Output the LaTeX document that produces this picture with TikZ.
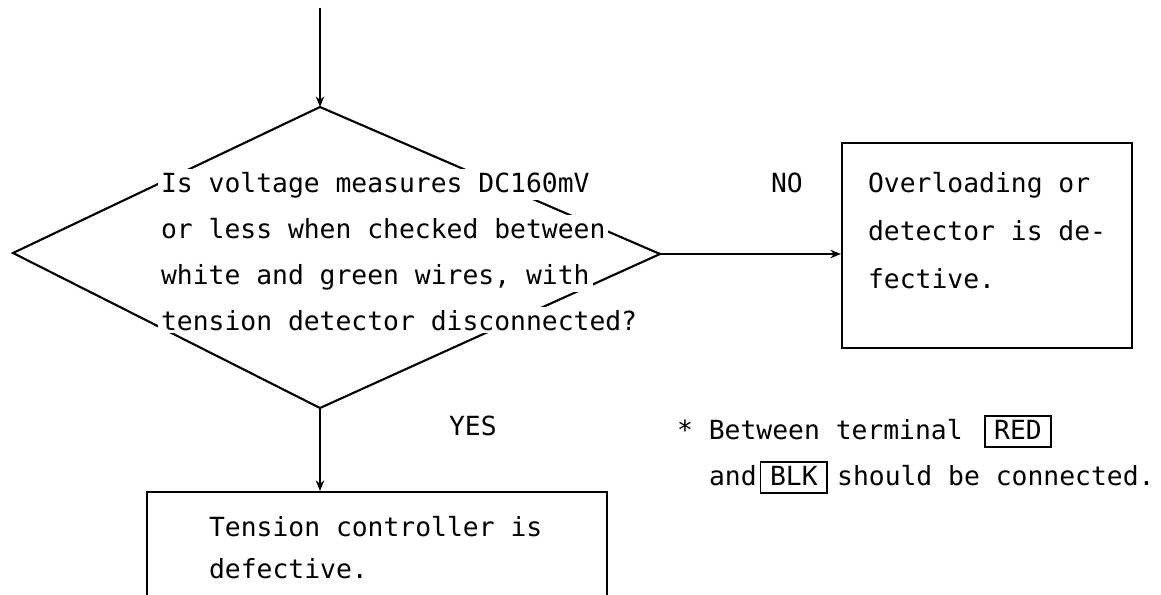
\documentclass[tikz,border=0pt]{standalone}
\usepackage{fontspec}
\newfontfamily\mono{DejaVu Sans Mono}
\usetikzlibrary{calc,arrows.meta}
\tikzset{
  txt/.style={font=\mono\fontsize{7.5}{9}\selectfont, inner sep=0pt, anchor=base west},
  qline/.style={txt, fill=white, inner xsep=0.03cm, inner ysep=0.025cm},
  resbox/.style={draw, inner sep=0pt},
  termbox/.style={txt, draw, line width=.5pt, inner xsep=0.095cm, inner ysep=0.04cm, text depth=0.04cm},
  flow/.style={-{Stealth[length=3pt,width=2.4pt]}}
}
\begin{document}
\begin{tikzpicture}[line width=.6pt]
\useasboundingbox (0,0) rectangle (11.61,5.94); \clip (0,0) rectangle (11.61,5.94);
\coordinate (S) at (3.2,5.86);
\coordinate (T) at (3.2,4.87); \coordinate (L) at (0.13,3.41); \coordinate (R) at (6.6,3.4); \coordinate (B) at (3.2,1.86);
\draw (T)--(R)--(B)--(L)--cycle;
\draw[flow] (S)--(T);
\foreach \t [count=\i] in {Is voltage measures DC160mV, or less when checked between, {white and green wires, with}, tension detector disconnected?}
  \node[qline] (q\i) at (1.57,{4.48-0.46*\i}) {\t};
% answer boxes
\node[resbox, minimum width=2.9cm, minimum height=2.05cm] (over) at (9.87,3.485) {};
\foreach \t [count=\i] in {Overloading or, detector is de-, fective.}
  \node[txt] (o\i) at (8.67,{4.50-0.48*\i}) {\t};
\node[resbox, minimum width=4.6cm, minimum height=1.6cm] (tens) at (3.77,0.22) {};
\node[txt] (t1) at (2.08,0.58) {Tension controller is};
\node[txt] (t2) at (2.08,0.16) {defective.};
\draw[flow] (R) -- (R -| over.west);
\draw[flow] (B) -- (B |- tens.north);
\node[txt] (no) at (7.70,4.02) {NO};
\node[txt] (yes) at (4.48,1.59) {YES};
% note on terminals
\node[txt] (n1) at (6.76,1.55) {* Between terminal};
\node[termbox] (red) at ($(n1.base east)+(0.20,0)$) {RED};
\node[txt] (n2) at (7.08,1.09) {and};
\node[termbox] (blk) at ($(n2.base east)+(0.02,0)$) {BLK};
\node[txt] (n3) at ($(blk.base east)+(0.08,0)$) {should be connected.};
\end{tikzpicture}
\end{document}
